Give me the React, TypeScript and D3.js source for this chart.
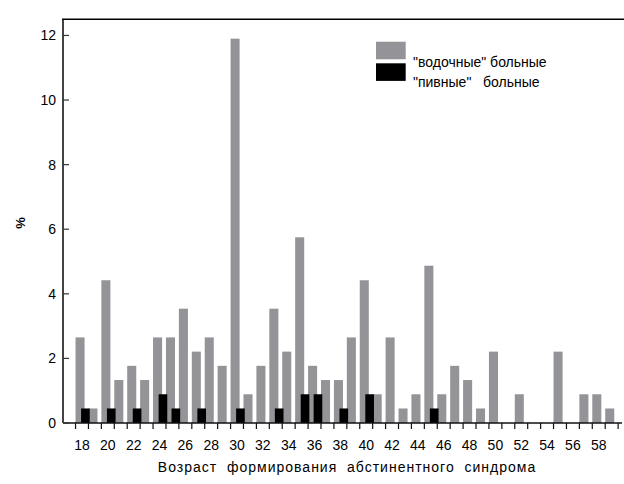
import React, { useEffect, useRef } from 'react';
import * as d3 from 'd3';

// ages along the x axis
const ages = d3.range(18, 60);
// "водочные" больные, % per age 18..59
const vodkaValues = [
  2.65, 0.45, 4.42, 1.33, 1.77, 1.33, 2.65, 2.65, 3.54, 2.21,
  2.65, 1.77, 11.9, 0.89, 1.77, 3.54, 2.21, 5.75, 1.77, 1.33,
  1.33, 2.65, 4.42, 0.89, 2.65, 0.45, 0.89, 4.87, 0.89, 1.77,
  1.33, 0.45, 2.21, 0, 0.89, 0, 0, 2.21, 0, 0.89,
  0.89, 0.45
];
// "пивные" больные, % per age 18..59
const beerValues = [
  0.45, 0, 0.45, 0, 0.45, 0, 0.89, 0.45, 0, 0.45,
  0, 0, 0.45, 0, 0, 0.45, 0, 0.89, 0.89, 0,
  0.45, 0, 0.89, 0, 0, 0, 0, 0.45, 0, 0,
  0, 0, 0, 0, 0, 0, 0, 0, 0, 0,
  0, 0
];
const xTickLabels = d3.range(18, 60, 2);
const yTicks = [0, 2, 4, 6, 8, 10, 12];
const legendLabels = ['"водочные" больные', '"пивные"   больные'];
const colors = ['#949498', '#000000'];

const App = () => {
  const svgRef = useRef<SVGSVGElement>(null);

  useEffect(() => {
    const svg = d3.select(svgRef.current);
    svg.selectAll('*').remove();

    const left = 63, right = 622, top = 19.3, bottom = 423;
    const x = d3.scaleLinear().domain([16.53, 59.8]).range([left, right]);
    const y = d3.scaleLinear().domain([0, 12.5]).range([bottom, top]);
    const font = 'Arial, "Liberation Sans", sans-serif';

    // gray bars
    svg.append('g')
      .selectAll('rect')
      .data(ages)
      .enter()
      .append('rect')
      .attr('x', d => x(d - 0.5))
      .attr('width', x(0.7) - x(0))
      .attr('y', (d, i) => y(vodkaValues[i]))
      .attr('height', (d, i) => y(0) - y(vodkaValues[i]))
      .attr('fill', colors[0]);

    // black bars
    svg.append('g')
      .selectAll('rect')
      .data(ages.filter((d, i) => beerValues[i] > 0))
      .enter()
      .append('rect')
      .attr('x', d => x(d - 0.07))
      .attr('width', x(0.67) - x(0))
      .attr('y', d => y(beerValues[d - 18]))
      .attr('height', d => y(0) - y(beerValues[d - 18]))
      .attr('fill', colors[1]);

    // x axis
    const xg = svg.append('g');
    xg.append('line')
      .attr('x1', left).attr('x2', right)
      .attr('y1', bottom).attr('y2', bottom)
      .attr('stroke', '#111').attr('stroke-width', 1.5);
    xg.selectAll('line.tick')
      .data(d3.range(17.5, 60, 1))
      .enter()
      .append('line')
      .attr('class', 'tick')
      .attr('x1', d => x(d)).attr('x2', d => x(d))
      .attr('y1', bottom).attr('y2', bottom + 6)
      .attr('stroke', '#111').attr('stroke-width', 1.2);
    xg.selectAll('text')
      .data(xTickLabels)
      .enter()
      .append('text')
      .attr('x', d => x(d))
      .attr('y', 450)
      .attr('text-anchor', 'middle')
      .style('font-family', font)
      .style('font-size', '14px')
      .text(d => d);

    // y axis
    const yg = svg.append('g');
    yg.append('line')
      .attr('x1', left).attr('x2', left)
      .attr('y1', top).attr('y2', bottom)
      .attr('stroke', '#444').attr('stroke-width', 2);
    yg.selectAll('line.tick')
      .data(yTicks)
      .enter()
      .append('line')
      .attr('class', 'tick')
      .attr('x1', left).attr('x2', left + 6)
      .attr('y1', d => y(d)).attr('y2', d => y(d))
      .attr('stroke', '#333').attr('stroke-width', 1.2);
    yg.selectAll('text')
      .data(yTicks)
      .enter()
      .append('text')
      .attr('x', 56)
      .attr('y', d => y(d) + 5)
      .attr('text-anchor', 'end')
      .style('font-family', font)
      .style('font-size', '14px')
      .text(d => d);

    // top frame line
    svg.append('line')
      .attr('x1', left - 1).attr('x2', 624)
      .attr('y1', top).attr('y2', top)
      .attr('stroke', '#000').attr('stroke-width', 1.5);

    // axis titles
    svg.append('text')
      .attr('transform', 'translate(25,223) rotate(-90)')
      .attr('text-anchor', 'middle')
      .style('font-family', font)
      .style('font-size', '13px')
      .style('font-weight', 'bold')
      .text('%');

    svg.append('text')
      .attr('x', 347)
      .attr('y', 472)
      .attr('text-anchor', 'middle')
      .style('font-family', font)
      .style('font-size', '14px')
      .style('letter-spacing', '1px')
      .style('white-space', 'pre')
      .text('Возраст  формирования  абстинентного  синдрома');

    // legend
    const lg = svg.append('g');
    legendLabels.forEach((label, i) => {
      lg.append('rect')
        .attr('x', 376)
        .attr('y', 41.7 + i * 21.6)
        .attr('width', 29.7)
        .attr('height', 17.6)
        .attr('fill', colors[i]);
      lg.append('text')
        .attr('x', 413)
        .attr('y', 67 + i * 20)
        .style('font-family', font)
        .style('font-size', '14px')
        .style('white-space', 'pre')
        .text(label);
    });
  }, []);

  return (
    <svg
      ref={svgRef}
      width={624}
      height={484}
      style={{ position: 'absolute', left: 0, top: 0, background: '#fff' }}
    />
  );
};

export default App;
